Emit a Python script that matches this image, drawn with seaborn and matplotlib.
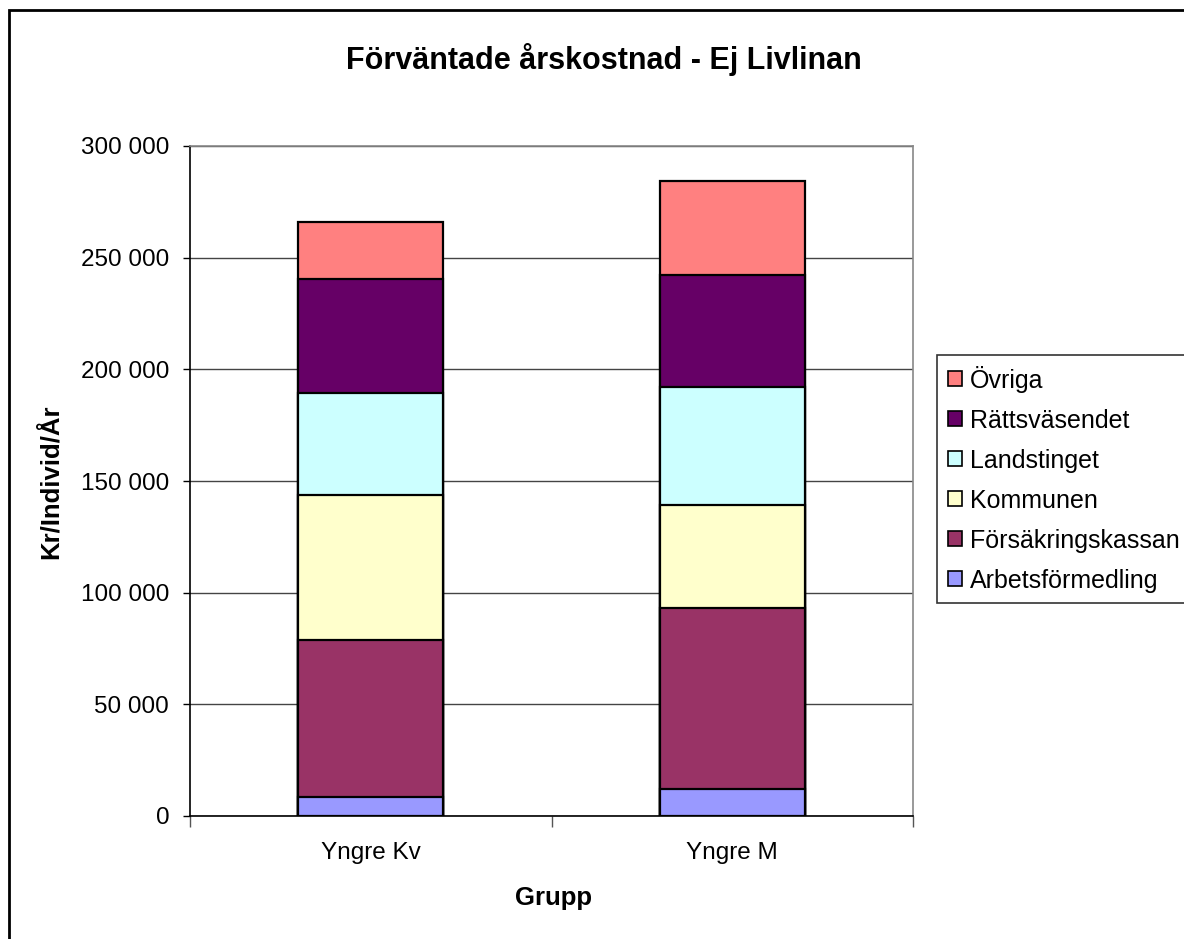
import numpy as np
import pandas as pd
import matplotlib
matplotlib.use("Agg")
import matplotlib.pyplot as plt
from matplotlib.patches import Patch, Rectangle
from matplotlib.ticker import FuncFormatter, FixedLocator
import seaborn as sns

# Data: expected yearly cost per individual, by payer
groups = ["Yngre Kv", "Yngre M"]
payers = ["Arbetsförmedling", "Försäkringskassan", "Kommunen",
          "Landstinget", "Rättsväsendet", "Övriga"]
arbetsformedling = [8700, 12100]
forsakringskassan = [70300, 80900]
kommunen = [64700, 46300]
landstinget = [45700, 52700]
rattsvasendet = [50900, 50100]
ovriga = [25600, 42200]
colors = ["#9999FF", "#993366", "#FFFFCC", "#CCFFFF", "#660066", "#FF8080"]

series = [arbetsformedling, forsakringskassan, kommunen,
          landstinget, rattsvasendet, ovriga]
values = np.array(series, dtype=float)
cum = np.cumsum(values, axis=0)

sns.set_theme(style="white")
plt.rcParams["font.family"] = ["Liberation Sans", "DejaVu Sans"]
plt.rcParams.update({"text.color": "black", "axes.labelcolor": "black",
                     "xtick.color": "black", "ytick.color": "black"})

fig = plt.figure(figsize=(11.84, 9.39), dpi=100)
ax = fig.add_axes([190 / 1184, 1 - 816 / 939, 723 / 1184, 670 / 939])

# Stacked bars: draw cumulative totals from the top segment down
for i in range(len(payers) - 1, -1, -1):
    df = pd.DataFrame({"Grupp": groups, "Värde": cum[i]})
    sns.barplot(data=df, x="Grupp", y="Värde", color=colors[i],
                width=0.4, edgecolor="black", linewidth=1.6,
                saturation=1, ax=ax, zorder=3)

ax.set_xlim(-0.5, len(groups) - 0.5)
ax.set_ylim(0, 300000)
ax.yaxis.set_major_locator(FixedLocator(np.arange(0, 300001, 50000)))
ax.yaxis.set_major_formatter(
    FuncFormatter(lambda v, p: f"{int(v):,}".replace(",", " ")))
ax.grid(axis="y", color="#444444", linewidth=1.0, zorder=0)
ax.set_axisbelow(True)

# Category boundary ticks on x, outward ticks on y
ax.xaxis.set_minor_locator(FixedLocator([-0.5, 0.5, 1.5]))
ax.tick_params(axis="x", which="major", length=0, labelsize=17.5, pad=19)
ax.tick_params(axis="x", which="minor", length=8, width=1, color="#555555",
               bottom=True, direction="out")
ax.tick_params(axis="y", which="major", length=5, width=1, color="black",
               left=True, direction="out", labelsize=17.5, pad=10)

for side in ["left", "bottom"]:
    ax.spines[side].set_color("black")
    ax.spines[side].set_linewidth(1.2)
for side in ["top", "right"]:
    ax.spines[side].set_visible(True)
    ax.spines[side].set_color("#888888")
    ax.spines[side].set_linewidth(1.2)

ax.set_xlabel("")
ax.set_ylabel("")
fig.text(553 / 1184, 1 - 898 / 939, "Grupp", ha="center", va="center",
         fontsize=18.5, fontweight="bold")
fig.text(51 / 1184, 1 - 482 / 939, "Kr/Individ/År", ha="center",
         va="center", rotation=90, fontsize=18.5, fontweight="bold")
fig.text(604 / 1184, 1 - 60 / 939, "Förväntade årskostnad - Ej Livlinan",
         ha="center", va="center", fontsize=22, fontweight="bold")

# Legend, top entry is the top segment
handles = [Patch(facecolor=colors[i], edgecolor="black", linewidth=1.2,
                 label=payers[i]) for i in range(len(payers) - 1, -1, -1)]
leg = fig.legend(handles=handles, loc="upper left",
                 bbox_to_anchor=(937 / 1184, 1 - 355 / 939),
                 frameon=True, fancybox=False, fontsize=18,
                 handlelength=0.56, handleheight=0.56, handletextpad=0.32,
                 labelspacing=0.64, borderpad=0.42, borderaxespad=0)
leg.get_frame().set_edgecolor("black")
leg.get_frame().set_linewidth(1.2)

# Chart area border
fig.patches.append(Rectangle((9 / 1184, -0.1), 1.2, 1 - 10 / 939 + 0.1,
                             transform=fig.transFigure, fill=False,
                             edgecolor="black", linewidth=2))

fig.savefig("out.png", dpi=100, facecolor="white")
